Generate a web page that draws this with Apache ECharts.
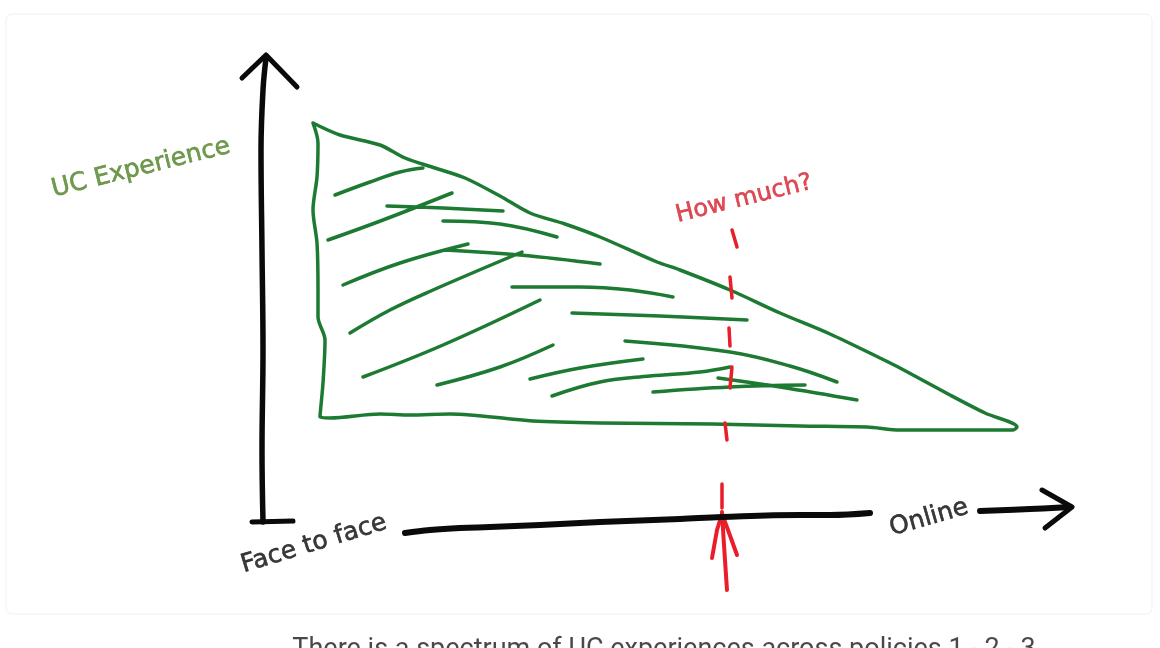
<!DOCTYPE html>
<html>
<head>
<meta charset="utf-8">
<script src="https://cdn.jsdelivr.net/npm/echarts@6/dist/echarts.min.js"></script>
<style>
  html, body { margin: 0; padding: 0; background: #fff; }
  #sketch_chart { width: 1160px; height: 648px; }
</style>
</head>
<body>
<div id="sketch_chart"></div>
<script>
// 坐标都按画布像素来记 (x 向右, y 向下)
var triangleOutline = [
  [313, 123], [340, 135], [380, 145], [405, 158], [435, 168], [465, 178],
  [500, 196], [530, 213], [565, 224], [600, 237], [657, 262], [680, 270],
  [730, 290], [780, 313], [830, 334], [880, 358], [900, 368], [950, 395],
  [985, 413], [1017, 427], [1013, 430], [960, 430], [900, 430], [867, 427],
  [800, 426], [713, 424], [600, 423], [533, 421], [450, 414], [410, 415],
  [380, 414], [330, 418], [320, 417], [323, 383], [325, 340], [318, 317],
  [318, 290], [317, 243], [313, 210], [317, 177], [318, 143], [313, 123]
];
var hatchStrokes = [
  [[335, 195], [370, 182], [400, 172], [423, 168]],
  [[387, 206], [443, 208], [503, 211]],
  [[328, 240], [383, 220], [452, 193]],
  [[443, 221], [500, 224], [557, 237]],
  [[343, 285], [400, 263], [468, 244]],
  [[445, 250], [520, 255], [600, 264]],
  [[350, 333], [390, 310], [433, 290], [522, 252]],
  [[512, 287], [580, 287], [630, 290], [673, 297]],
  [[572, 313], [660, 316], [747, 320]],
  [[363, 377], [443, 345], [540, 300]],
  [[437, 385], [500, 367], [553, 345]],
  [[530, 379], [580, 368], [643, 359]],
  [[552, 396], [600, 382], [650, 376], [700, 372], [730, 367]],
  [[653, 392], [730, 387], [805, 385]],
  [[625, 341], [730, 352], [790, 366], [837, 382]],
  [[718, 378], [780, 387], [857, 400]]
];
var redDashes = [
  [[732, 230], [737, 247]],
  [[730, 277], [732, 298]],
  [[729, 328], [730, 346]],
  [[732, 367], [730, 388]],
  [[725, 423], [727, 440]],
  [[722, 484], [722, 508]]
];
var redArrowShaft = [[722, 512], [724, 545], [727, 590]];
var redArrowHead = [[712, 558], [717, 530], [722, 514], [728, 530], [737, 555]];

var yAxisStroke = [[266, 58], [263, 90], [261, 150], [262, 250], [263, 350], [262, 450], [263, 522]];
var yArrowHead = [[242, 78], [266, 55], [297, 87]];
var yAxisFoot = [[252, 522], [293, 521]];
var xAxisStroke = [
  [405, 533], [430, 530], [460, 528], [490, 527], [540, 525], [600, 522],
  [680, 519], [722, 517], [800, 515], [830, 515], [870, 513]
];
var xArrowStroke = [[980, 511], [1030, 509], [1070, 507]];
var xArrowHead = [[1042, 490], [1072, 507], [1045, 528]];

var labelTexts = ["UC Experience", "How much?", "Face to face", "Online"];
var labelPoints = [[141, 168], [744, 199], [314, 544], [929, 518]];
var captionText = ["There is a spectrum of UC experiences across policies 1 - 2 - 3"];
var captionPoint = [[664, 640]];

// 把多段笔画拼成一条, 用 null 断开
function joinStrokes(list) {
  var out = [];
  list.forEach(function (s, i) {
    if (i > 0) out.push(null);
    s.forEach(function (p) { out.push(p); });
  });
  return out;
}

function stroke(data, color, width, smooth) {
  return {
    type: "line",
    data: data,
    smooth: smooth === undefined ? 0.4 : smooth,
    showSymbol: false,
    silent: true,
    lineStyle: { color: color, width: width, cap: "round", join: "round" },
  };
}

function textSeries(points, texts, color, rotates, size, family, border, offsetY) {
  return {
    type: "scatter",
    symbolSize: 0,
    silent: true,
    clip: false,
    data: points.map(function (p, i) {
      return {
        value: p,
        name: texts[i],
        label: { rotate: rotates[i] },
      };
    }),
    label: {
      show: true,
      position: "inside",
      offset: [0, offsetY || 0],
      formatter: "{b}",
      color: color,
      fontSize: size,
      fontFamily: family,
      textBorderColor: color,
      textBorderWidth: border,
    },
  };
}

var sketch_chart = echarts.init(document.getElementById("sketch_chart"));
var GREEN = "#1d7a32";
var INK = "#0a0a0a";
var RED = "#ea1d2a";

var option = {
  animation: false,
  backgroundColor: "#ffffff",
  grid: { left: 0, right: 0, top: 0, bottom: 0 },
  xAxis: { type: "value", min: 0, max: 1160, show: false },
  yAxis: { type: "value", min: 0, max: 648, inverse: true, show: false },
  graphic: [
    {
      type: "rect",
      shape: { x: 6, y: 14, width: 1146, height: 600, r: 6 },
      style: { fill: "none", stroke: "#f1f1f1", lineWidth: 1 },
      silent: true,
    },
  ],
  series: [
    stroke(triangleOutline, GREEN, 3.5, 0.3),
    stroke(joinStrokes(hatchStrokes), GREEN, 3.5),
    stroke(joinStrokes(redDashes), RED, 3.5, 0),
    stroke(redArrowShaft, RED, 4),
    stroke(redArrowHead, RED, 4, 0),
    stroke(yAxisStroke, INK, 5.5),
    stroke(yArrowHead, INK, 5, 0),
    stroke(yAxisFoot, INK, 5, 0),
    stroke(xAxisStroke, INK, 6),
    stroke(xArrowStroke, INK, 6),
    stroke(xArrowHead, INK, 5, 0),
    textSeries([labelPoints[0]], [labelTexts[0]], "#4f8226", [14], 25, "DejaVu Sans", 0.6),
    textSeries([labelPoints[1]], [labelTexts[1]], "#d61f2c", [14], 24, "DejaVu Sans", 0.6),
    textSeries(labelPoints.slice(2), labelTexts.slice(2), INK, [17, 16], 25, "DejaVu Sans", 0.6),
    textSeries(captionPoint, captionText, "#1a1a1a", [0], 27, "Roboto", 0, 10),
  ],
};
sketch_chart.setOption(option);
</script>
</body>
</html>
